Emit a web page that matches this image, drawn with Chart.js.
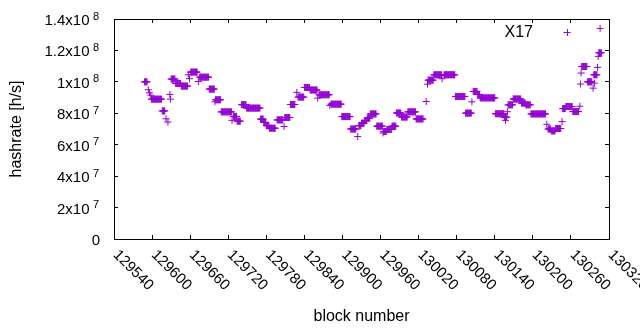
<!DOCTYPE html>
<html><head><meta charset="utf-8">
<script src="https://cdn.jsdelivr.net/npm/chart.js@4/dist/chart.umd.min.js"></script>
<style>html,body{margin:0;padding:0;background:#fff;}canvas{display:block;}</style>
</head><body>
<canvas id="c" width="640" height="330"></canvas>
<script>
const seriesName = 'X17';
// runs of consecutive blocks with the same hashrate (Mh/s)
const runStartBlock = [129588,129594,129596,129598,129599,129616,129622,129625,129628,129629,
129630,129637,129646,129657,129659,129661,129673,129675,129690,129699,
129700,129709,129726,129728,129734,129741,129749,129771,129776,129780,
129785,129797,129808,129809,129818,129828,129830,129840,129849,129861,
129863,129880,129882,129899,129913,129924,129926,129930,129935,129939,
129944,129954,129964,129965,129970,129978,129985,129993,130003,130016,
130032,130034,130035,130044,130057,130060,130078,130094,130104,130106,
130113,130117,130141,130155,130157,130160,130161,130169,130182,130189,
130197,130222,130224,130229,130236,130246,130247,130252,130263,130274,
130275,130276,130277,130286,130295,130297,130296,130302,130303,130304,130306];
const runEndBlock = [129592,129594,129596,129598,129615,129620,129622,129625,129628,129629,
129636,129645,129656,129657,129659,129671,129673,129689,129698,129699,
129708,129725,129726,129733,129739,129748,129770,129775,129779,129784,
129794,129806,129808,129817,129825,129828,129839,129848,129860,129861,
129879,129880,129898,129912,129921,129924,129929,129934,129938,129943,
129953,129963,129964,129969,129977,129984,129992,130002,130015,130027,
130032,130034,130043,130056,130057,130077,130093,130103,130104,130112,
130116,130140,130154,130159,130157,130160,130168,130181,130188,130196,
130220,130222,130228,130235,130244,130246,130251,130262,130272,130274,
130275,130276,130285,130293,130295,130297,130301,130302,130303,130308,130306];
const runHashrateMH = [100,95,93,91.5,89,81.5,76.5,74.4,92,89,
101.8,99,97.3,104.5,102,106.2,100.2,103,95.4,87.3,
88.6,80.9,75.5,78,75,85.5,83.3,76.3,74.2,72.1,
70.5,75.8,71.6,77.3,85.6,93.3,90.3,96.4,94.8,89.6,
91.8,85,85.8,77.9,70,65.2,72.1,73.7,75.3,76.9,
79.6,71.8,67.5,68.4,69.7,71.8,80.2,77.6,80.9,76.4,
87.5,98.5,101.1,104.5,102,104.5,90.7,80.1,87.3,93.9,
92,89.8,79.7,77.5,75.5,81,85.4,89.1,86.5,85.4,
79.6,73,70,68.8,70.3,74.7,83,84.3,81.1,84.5,
98.6,105.6,109.8,100,96,99.2,104.5,109.2,116.2,118.5,134];

const xTickValues = [129540,129600,129660,129720,129780,129840,129900,129960,130020,130080,130140,130200,130260,130320];
const xTickLabels = ['129540','129600','129660','129720','129780','129840','129900','129960','130020','130080','130140','130200','130260','130320'];
const yTickValues = [0,20,40,60,80,100,120,140];
const yTickLabels = ['0','2x10^7','4x10^7','6x10^7','8x10^7','1x10^8','1.2x10^8','1.4x10^8'];

const COLOR = '#9400d3';
const FONT = '"Liberation Sans", Arial, sans-serif';

const points = [];
for (let i = 0; i < runStartBlock.length; i++) {
  for (let b = runStartBlock[i]; b <= runEndBlock[i]; b++) points.push({x: b, y: runHashrateMH[i]});
}

const frame = {drawOnChartArea: false, drawTicks: true, tickLength: -4, color: '#000', lineWidth: 1};
const border = {display: true, color: '#000', width: 1};

const textPlugin = {
  id: 'gnuplotText',
  afterDraw(chart) {
    const ctx = chart.ctx, xs = chart.scales.x, ys = chart.scales.y;
    ctx.save();
    ctx.fillStyle = '#000';
    yTickValues.forEach((v, i) => {
      const py = ys.getPixelForValue(v);
      const parts = yTickLabels[i].split('^');
      ctx.textBaseline = 'alphabetic';
      ctx.font = '15px ' + FONT;
      if (parts.length === 1) {
        ctx.textAlign = 'right';
        ctx.fillText(parts[0], 100, py + 6);
      } else {
        ctx.textAlign = 'right';
        ctx.fillText(parts[0], 89.5, py + 6);
        ctx.font = '11px ' + FONT;
        ctx.textAlign = 'left';
        ctx.fillText(parts[1], 93, py + 0.5);
      }
    });
    ctx.font = '15px ' + FONT;
    xTickValues.forEach((v, i) => {
      const px = xs.getPixelForValue(v);
      ctx.save();
      ctx.translate(px + 1.5, 252.5);
      ctx.rotate(Math.PI / 4);
      ctx.textAlign = 'left';
      ctx.textBaseline = 'middle';
      ctx.fillText(xTickLabels[i], 0, 0);
      ctx.restore();
    });
    ctx.font = '16px ' + FONT;
    ctx.textAlign = 'right';
    ctx.textBaseline = 'alphabetic';
    ctx.fillText(seriesName, 533, 36.5);
    ctx.strokeStyle = COLOR;
    ctx.lineWidth = 1;
    ctx.beginPath();
    ctx.moveTo(563.5, 32.5); ctx.lineTo(570.5, 32.5);
    ctx.moveTo(567.5, 29); ctx.lineTo(567.5, 36);
    ctx.stroke();
    ctx.restore();
  }
};

new Chart(document.getElementById('c'), {
  type: 'scatter',
  data: {datasets: [{
    label: seriesName, data: points,
    pointStyle: 'cross', pointRadius: 3.5, pointBorderWidth: 1,
    pointBorderColor: COLOR, pointBackgroundColor: COLOR, borderColor: COLOR, backgroundColor: COLOR
  }]},
  options: {
    responsive: false, animation: false, events: [],
    layout: {padding: 0},
    plugins: {legend: {display: false}, tooltip: {enabled: false}},
    scales: {
      x: {type: 'linear', position: 'bottom', min: 129540, max: 130320,
        ticks: {display: false, stepSize: 60}, grid: frame, border: border,
        title: {display: true, text: 'block number', color: '#000', font: {family: FONT, size: 16}, padding: {top: 0, bottom: 4}},
        afterFit: s => { s.height = 91; }},
      x2: {type: 'linear', position: 'top', min: 129540, max: 130320,
        ticks: {display: false, stepSize: 60}, grid: frame, border: border,
        afterFit: s => { s.height = 19; }},
      y: {type: 'linear', position: 'left', min: 0, max: 140,
        ticks: {display: false, stepSize: 20}, grid: frame, border: border,
        title: {display: true, text: 'hashrate [h/s]', color: '#000', font: {family: FONT, size: 16}, padding: {top: 7, bottom: 0}},
        afterFit: s => { s.width = 114; }},
      y2: {type: 'linear', position: 'right', min: 0, max: 140,
        ticks: {display: false, stepSize: 20}, grid: frame, border: border,
        afterFit: s => { s.width = 31; }}
    }
  },
  plugins: [textPlugin]
});
</script>
</body></html>
